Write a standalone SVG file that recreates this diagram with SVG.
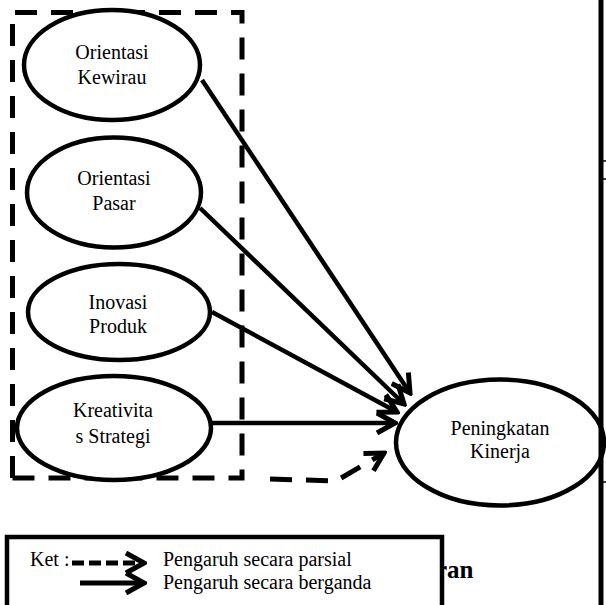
<svg xmlns="http://www.w3.org/2000/svg" width="606" height="605" viewBox="0 0 606 605">
<style>
.bg{fill:#ffffff}
.node ellipse{fill:#ffffff;stroke:#000;stroke-width:4.5}
.lbl{font-family:"Liberation Serif","Times New Roman",serif;font-size:20px;fill:#000;text-anchor:middle}
.leg{font-family:"Liberation Serif","Times New Roman",serif;font-size:20px;fill:#000}
.conn{fill:none;stroke:#000;stroke-width:4.5}
.dash{fill:none;stroke:#000;stroke-width:5;stroke-dasharray:22 14}
.frame{fill:none;stroke:#000;stroke-width:5;stroke-dasharray:22 14}
</style>
<defs>
<marker id="head" markerUnits="userSpaceOnUse" viewBox="0 0 24 24" markerWidth="24" markerHeight="24" refX="21" refY="12" orient="auto">
<path d="M3,2 L21,12 L3,22" fill="none" stroke="#000" stroke-width="5"/>
</marker>
</defs>
<rect class="bg" x="0" y="0" width="606" height="605"/>
<g id="group-frame">
<path class="frame" d="M12.5,478 V12.5 H242 V478 H12.5"/>
</g>
<g id="connectors">
<line class="conn" x1="202" y1="80" x2="410" y2="393" marker-end="url(#head)"/>
<line class="conn" x1="200" y1="208" x2="404" y2="404" marker-end="url(#head)"/>
<line class="conn" x1="212" y1="312" x2="397" y2="412" marker-end="url(#head)"/>
<line class="conn" x1="212" y1="423" x2="395" y2="423" marker-end="url(#head)"/>
<path class="dash" d="M270,479 L336,481 L384,453" marker-end="url(#head)"/>
</g>
<g id="node-kewirau" class="node">
<ellipse cx="112" cy="65" rx="88" ry="55"/>
<text class="lbl" x="112" y="59">Orientasi</text>
<text class="lbl" x="112" y="84">Kewirau</text>
</g>
<g id="node-pasar" class="node">
<ellipse cx="114" cy="192.5" rx="87" ry="55"/>
<text class="lbl" x="114" y="185">Orientasi</text>
<text class="lbl" x="114" y="210">Pasar</text>
</g>
<g id="node-inovasi" class="node">
<ellipse cx="119" cy="312" rx="91" ry="48"/>
<text class="lbl" x="118" y="309">Inovasi</text>
<text class="lbl" x="118" y="333">Produk</text>
</g>
<g id="node-kreativitas" class="node">
<ellipse cx="114" cy="428" rx="97" ry="52"/>
<text class="lbl" x="113" y="417">Kreativita</text>
<text class="lbl" x="113" y="443">s Strategi</text>
</g>
<g id="node-kinerja" class="node">
<ellipse cx="500" cy="442.5" rx="104" ry="63"/>
<text class="lbl" x="500" y="435">Peningkatan</text>
<text class="lbl" x="500" y="458">Kinerja</text>
</g>
<g id="edge-line">
<line x1="601" y1="0" x2="601" y2="605" stroke="#000" stroke-width="5"/>
<line x1="603" y1="161" x2="606" y2="161" stroke="#000" stroke-width="1.5"/>
<line x1="603" y1="179" x2="606" y2="179" stroke="#000" stroke-width="1.5"/>
<line x1="603" y1="482" x2="606" y2="482" stroke="#000" stroke-width="1.5"/>
</g>
<text x="436" y="578" font-family="Liberation Serif, Times New Roman, serif" font-size="25" font-weight="bold" fill="#000">ran</text>
<g id="legend">
<rect x="7" y="537" width="435" height="80" fill="#ffffff" stroke="#000" stroke-width="4.5"/>
<text class="leg" x="30" y="566">Ket :</text>
<line x1="72" y1="563" x2="144" y2="563" stroke="#000" stroke-width="5" stroke-dasharray="12 5" marker-end="url(#head)"/>
<line x1="80" y1="583" x2="144" y2="583" stroke="#000" stroke-width="5" marker-end="url(#head)"/>
<text class="leg" x="163" y="566">Pengaruh secara parsial</text>
<text class="leg" x="163" y="589">Pengaruh secara berganda</text>
</g>
</svg>
